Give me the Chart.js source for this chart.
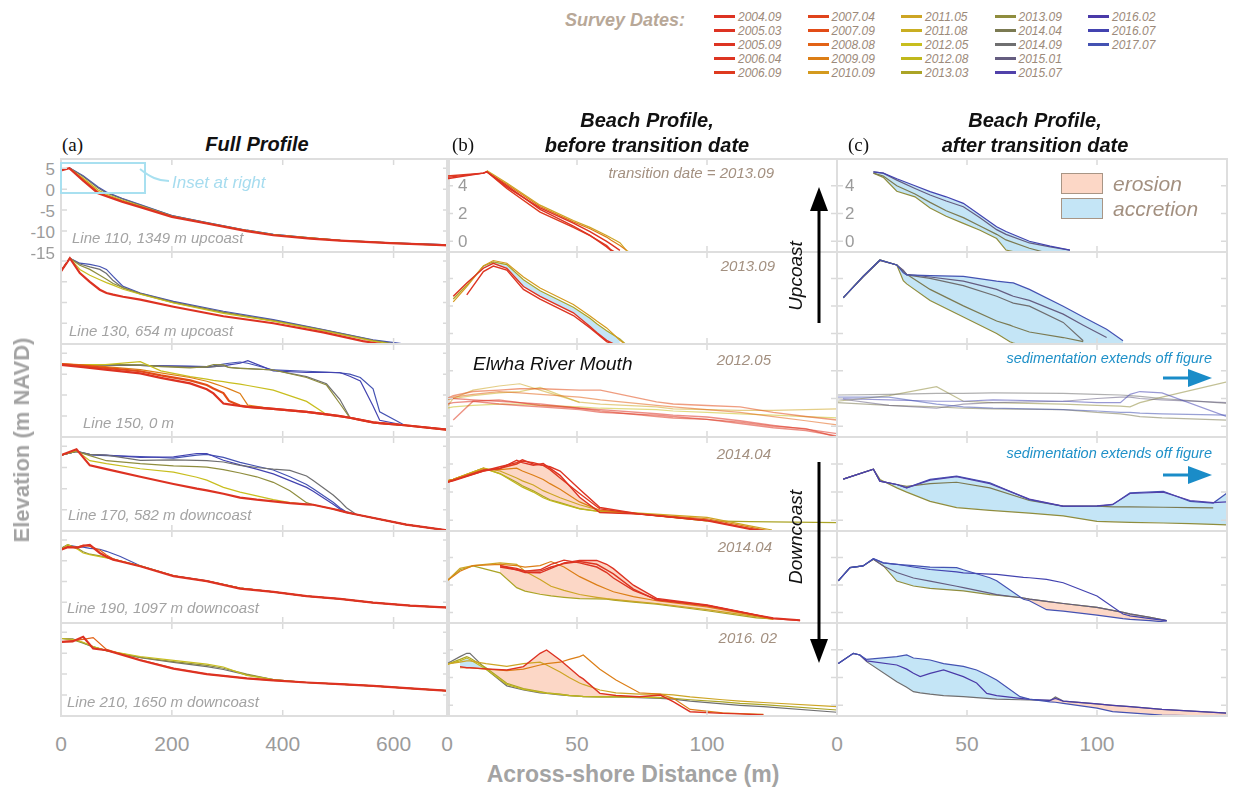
<!DOCTYPE html>
<html>
<head>
<meta charset="utf-8">
<script src="https://cdn.jsdelivr.net/npm/chart.js@4.4.1/dist/chart.umd.min.js"></script>
<style>
  body { margin: 0; background: #fff; width: 1233px; height: 788px; position: relative; overflow: hidden;
         font-family: "Liberation Sans", Arial, Helvetica, sans-serif; }
  .t { position: absolute; white-space: nowrap; line-height: 1; }
  canvas { position: absolute; }
  svg { position: absolute; left: 0; top: 0; pointer-events: none; }
</style>
</head>
<body>
<script>
(function () {
  "use strict";

  // Survey dates and their legend colours
  const surveyDates = ['2004.09', '2005.03', '2005.09', '2006.04', '2006.09', '2007.04', '2007.09', '2008.08',
    '2009.09', '2010.09', '2011.05', '2011.08', '2012.05', '2012.08', '2013.03', '2013.09', '2014.04',
    '2014.09', '2015.01', '2015.07', '2016.02', '2016.07', '2017.07'];
  const surveyColors = ['#dd3222', '#dd3322', '#dd3422', '#dd3522', '#de3a1f', '#e0431b', '#e24c17', '#e26216',
    '#dc7e16', '#d49a1e', '#cda524', '#c9ae22', '#c8be1e', '#c0b81c', '#aba426', '#8f8d3e', '#7b7a52',
    '#6f6f70', '#655d80', '#5141aa', '#4a3aa8', '#4343b0', '#4452b2'];

  // ---- (a) Full profile ----
  const distA110 = [0, 15, 40, 67, 82, 110, 143, 200, 263, 335, 383, 450, 504, 594, 700];
  const a110_2004_09 = [4.5, 5.0, 2.0, -1.0, -1.7, -3.0, -4.3, -6.6, -8.2, -10.0, -11.0, -11.8, -12.3, -12.9, -13.4];
  const a110_2008_08 = [4.6, 5.0, 2.3, -0.6, -1.5, -2.8, -4.2, -6.5, -8.1, -9.9, -10.9, -11.7, -12.3, -12.9, -13.4];
  const a110_2012_05 = [null, 5.0, 2.6, -0.2, -1.2, -2.6, -4.0, -6.5, -8.2, -9.9, -10.9, -11.6, -12.2, -12.8, -13.5];
  const a110_2014_09 = [null, 5.1, 3.0, 0.3, -0.9, -2.3, -3.8, -6.3, -8.0, -9.8, -10.8, -11.6, -12.2, -12.8, -13.3];
  const a110_2017_07 = [null, 5.1, 3.2, 0.5, -0.7, -2.2, -3.7, -6.3, -8.0, -9.8, -10.8, -11.6, -12.2, -12.8, -13.3];

  const distA130 = [0, 16, 34, 52, 70, 82, 94, 112, 143, 203, 293, 383, 473, 545, 563, 608, 650];
  const a130_2004_09 = [2.5, 5.7, 2.1, 0.0, -1.9, -2.7, -3.1, -3.6, -4.3, -6.0, -8.3, -10.0, -12.2, -14.3, -14.7, -15.6, null];
  const a130_2012_05 = [2.6, 5.7, 3.0, 1.6, 0.5, -0.2, -0.8, -1.8, -3.0, -5.1, -7.6, -9.5, -11.8, -13.8, -14.3, -15.3, null];
  const a130_2013_09 = [2.6, 5.7, 4.0, 3.0, 1.6, 0.6, -0.4, -1.4, -2.9, -5.0, -7.4, -9.4, -11.7, -13.7, -14.2, -15.2, null];
  const a130_2014_09 = [2.6, 5.7, 4.3, 3.6, 3.0, 2.0, 0.3, -1.5, -2.8, -4.9, -7.3, -9.3, -11.6, -13.6, -14.1, -15.1, null];
  const a130_2017_07 = [2.6, 5.7, 4.5, 4.2, 3.7, 3.0, 1.3, -1.1, -2.7, -4.7, -7.1, -9.1, -11.5, -13.5, -14.0, -14.8, -15.6];

  const distA150 = [0, 40, 80, 143, 180, 233, 263, 275, 293, 303, 323, 337, 383, 443, 479, 503, 521, 540, 563, 575, 620, 700];
  const a150_2004_09 = [2.2, 1.7, 1.1, 0.2, -0.9, -2.2, -3.6, -4.6, -7.0, -7.2, -7.6, -7.8, -8.3, -9.0, -9.6, -10.0, -10.4, -10.9, -11.5, -11.7, -12.2, -13.3];
  const a150_2007_09 = [2.4, 2.0, 1.5, 0.7, -0.3, -1.5, -2.6, -3.4, -4.5, -6.4, -7.5, -7.8, -8.3, -9.0, -9.6, -10.0, -10.4, -10.9, -11.5, -11.7, -12.2, -13.3];
  const a150_2009_09 = [2.5, 2.2, 1.8, 1.1, 0.3, -0.8, -1.7, -2.2, -3.0, -3.5, -4.6, -7.4, -8.3, -9.0, -9.6, -10.0, -10.4, -10.9, -11.5, -11.7, -12.2, -13.3];
  const a150_2012_05 = [2.3, 2.3, 2.3, 3.0, 0.8, -0.6, -1.2, -1.5, -1.8, -2.0, -2.4, -2.7, -3.8, -6.5, -9.6, -10.0, -10.4, -10.9, -11.5, -11.7, -12.2, -13.3];
  const a150_2013_09 = [2.3, 2.3, 2.3, 2.2, 1.8, 1.5, 1.8, 2.3, 2.2, 1.6, 1.4, 1.3, 1.0, -0.8, -2.6, -7.0, -10.4, -10.9, -11.5, -11.7, -12.2, -13.3];
  const a150_2014_09 = [2.3, 2.3, 2.2, 2.1, 1.9, 1.7, 1.6, 1.8, 2.0, 1.6, 1.4, 1.3, 1.0, -0.6, -2.3, -6.0, -10.3, -10.9, -11.5, -11.7, -12.2, -13.3];
  const a150_2016_07 = [2.3, 2.2, 2.2, 2.1, 2.0, 1.8, 1.7, 1.8, 2.0, 2.2, 2.6, 3.2, 0.8, 0.4, 0.4, 0.4, -0.5, -1.6, -7.6, -11.0, -12.2, -13.3];
  const a150_2017_07 = [2.3, 2.2, 2.2, 2.1, 2.0, 1.9, 1.8, 2.0, 2.4, 2.6, 2.9, 2.6, 1.0, 0.7, 0.5, 0.3, 0.0, -0.8, -3.5, -9.0, -12.2, -13.3];

  const distA170 = [0, 28, 52, 82, 143, 203, 245, 263, 293, 323, 353, 383, 413, 443, 455, 491, 503, 515, 533, 623, 700];
  const a170_2004_09 = [2.9, 4.3, 0.5, -0.4, -2.2, -3.9, -5.0, -5.4, -6.2, -7.1, -7.6, -8.0, -8.4, -8.7, -8.8, -9.8, -10.2, -10.6, -11.1, -13.5, -14.9];
  const a170_2012_05 = [2.9, 4.0, 1.6, 0.9, -0.3, -1.1, -2.3, -3.0, -4.7, -5.8, -6.7, -7.6, -8.3, -8.7, -8.8, -9.8, -10.2, -10.6, -11.1, -13.5, -14.9];
  const a170_2013_09 = [2.9, 3.8, 2.8, 1.6, 0.9, 0.4, 0.2, 0.1, -0.5, -1.3, -2.2, -3.5, -5.5, -8.3, -8.8, -9.8, -10.2, -10.6, -11.1, -13.5, -14.9];
  const a170_2014_09 = [2.9, 3.8, 3.1, 2.9, 1.7, 1.8, 1.7, 1.6, 1.3, 0.5, 0.0, -0.4, -0.7, -2.0, -3.1, -6.5, -7.9, -9.5, -11.1, -13.5, -14.9];
  const a170_2016_07 = [2.9, 3.8, 3.1, 2.9, 2.4, 2.5, 3.3, 3.3, 1.7, 0.6, -0.4, -1.5, -3.1, -4.7, -5.6, -8.7, -9.8, -10.6, -11.1, -13.5, -14.9];
  const a170_2017_07 = [2.9, 3.8, 3.0, 2.8, 2.6, 2.2, 2.9, 3.1, 2.4, 1.2, 0.3, -0.6, -2.2, -4.0, -5.0, -8.2, -9.5, -10.5, -11.1, -13.5, -14.9];

  const distA190 = [0, 12, 30, 40, 52, 70, 82, 94, 106, 143, 203, 263, 323, 383, 443, 503, 563, 630, 700];
  const a190_2004_09 = [2.7, 3.3, 3.2, 3.6, 3.85, 1.9, 1.0, 0.3, -0.1, -1.3, -3.7, -4.9, -6.7, -7.5, -8.5, -9.2, -10.1, -10.8, -11.3];
  const a190_2008_08 = [2.7, 3.3, 3.3, 3.8, 3.5, 2.6, 1.4, 0.5, 0.0, -1.3, -3.6, -4.9, -6.6, -7.5, -8.5, -9.2, -10.1, -10.8, -11.3];
  const a190_2012_05 = [2.7, 3.9, 2.8, 1.9, 1.5, 1.0, 0.7, 0.4, 0.0, -1.2, -3.6, -4.9, -6.6, -7.5, -8.5, -9.2, -10.1, -10.8, -11.3];
  const a190_2013_09 = [3.0, 3.9, 3.0, 2.2, 1.6, 1.2, 0.8, 0.4, 0.0, -1.2, -3.6, -4.8, -6.6, -7.5, -8.5, -9.2, -10.1, -10.8, -11.3];
  const a190_2017_07 = [3.0, 3.8, 3.4, 3.3, 3.0, 2.8, 2.3, 1.7, 1.1, -1.2, -3.6, -4.8, -6.6, -7.5, -8.5, -9.2, -10.1, -10.8, -11.3];

  const distA210 = [0, 21, 40, 58, 82, 143, 203, 263, 293, 335, 383, 443, 503, 563, 630, 700];
  const a210_2004_09 = [2.7, 2.8, 3.9, 1.1, 0.7, -1.7, -3.7, -5.0, -5.4, -6.0, -6.5, -7.0, -7.4, -7.8, -8.4, -9.0];
  const a210_2008_08 = [2.7, 3.0, 3.3, 3.7, 0.9, -1.6, -3.6, -5.0, -5.4, -6.0, -6.5, -7.0, -7.4, -7.8, -8.4, -9.0];
  const a210_2012_05 = [3.5, 3.3, 2.6, 1.6, 0.6, -0.8, -1.7, -2.6, -3.3, -5.3, -6.3, -7.0, -7.4, -7.8, -8.4, -9.0];
  const a210_2013_09 = [3.5, 3.2, 2.4, 1.5, 0.6, -1.0, -2.0, -2.9, -3.6, -5.0, -6.3, -7.0, -7.4, -7.8, -8.4, -9.0];
  const a210_2014_09 = [3.5, 3.4, 2.5, 1.5, 0.6, -1.1, -2.2, -3.2, -3.9, -5.2, -6.3, -7.0, -7.4, -7.8, -8.4, -9.0];

  // ---- (b) Beach profile before transition date ----
  const distB110 = [0, 14, 15.3, 23, 35.8, 48.6, 55, 61.4, 63, 66.5, 69, 72];
  const b110_2004_09 = [4.5, 4.9, 5.0, 3.9, 2.4, 1.3, 0.7, 0.0, -0.2, -0.65, null, null];
  const b110_2005_09 = [4.6, 4.9, 5.0, 4.0, 2.3, 1.1, 0.42, -0.4, -0.65, -1.0, null, null];
  const b110_2006_09 = [4.7, 4.9, 5.0, 3.8, 2.1, 1.0, 0.4, -0.3, -0.6, -1.0, null, null];
  const b110_2009_09 = [null, null, 5.0, 4.1, 2.5, 1.4, 0.9, 0.3, 0.1, -0.3, -0.65, null];
  const b110_2011_05 = [null, null, 5.1, 4.2, 2.6, 1.5, 1.0, 0.42, 0.25, -0.1, -0.65, -1.0];

  const distB130 = [0, 2.4, 7.6, 14, 17.8, 23, 29.4, 35.8, 42.2, 48.6, 55, 57.6, 61.4, 66.5, 70];
  const b130_2004_09 = [null, 2.7, 3.66, 4.74, 5.1, 4.74, 3.41, 2.7, 2.1, 1.5, 0.5, 0.06, -0.5, -1.0, null];
  const b130_2006_04 = [null, null, 2.8, 4.5, 4.9, 4.6, 3.2, 2.5, 1.9, 1.3, 0.4, 0.0, -0.6, -1.0, null];
  const b130_2010_09 = [null, 2.3, 3.4, 4.9, 5.3, 5.1, 4.1, 3.3, 2.7, 2.1, 1.26, 0.9, 0.4, -0.5, -1.0];
  const b130_2013_03 = [null, 2.5, 3.5, 4.9, 5.2, 5.0, 3.9, 3.1, 2.5, 1.9, 1.1, 0.7, 0.2, -0.4, -1.0];

  const distB150 = [0, 2.4, 10, 20, 28, 35.8, 51, 59, 80.6, 87, 100, 112.7, 125.5, 138, 150];
  const b150_2004_09 = [2.0, 2.0, 1.9, 1.8, 1.7, 1.6, 1.3, 1.2, 0.9, 0.8, 0.67, 0.4, 0.07, -0.2, -0.53];
  const b150_2005_09 = [1.6, 1.7, 1.8, 1.6, 1.5, 1.4, 1.2, 1.0, 0.8, 0.7, 0.5, 0.2, -0.1, -0.3, -0.7];
  const b150_2006_09 = [null, 0.45, 1.8, 1.9, 1.7, 1.5, 1.3, 1.1, 0.7, 0.6, 0.5, 0.3, 0.0, -0.17, -0.77];
  const b150_2007_09 = [2.0, 2.2, 2.5, 2.6, 2.7, 2.7, 2.6, 2.6, 1.76, 1.6, 1.5, 1.4, 1.0, 0.7, 0.45];
  const b150_2008_08 = [1.9, 2.1, 2.3, 2.5, 2.4, 2.3, 2.1, 1.9, 1.5, 1.4, 1.2, 1.0, 0.7, 0.4, 0.1];
  const b150_2011_05 = [1.4, 2.0, 2.6, 2.9, 3.06, 2.6, 1.74, 1.6, 1.4, 1.26, 1.2, 1.15, 1.14, 1.2, 1.26];
  const b150_2011_08 = [1.9, 2.0, 2.2, 2.4, 2.5, 2.8, 1.7, null, null, null, null, null, null, null, null];
  const b150_2012_05 = [1.3, 1.4, 1.5, 1.6, 1.6, 1.5, 1.4, 1.3, 1.2, 1.1, 1.0, 0.9, 0.8, 0.7, 0.6];

  const distB170 = [0, 2.4, 14, 20.4, 26.8, 29, 33.2, 37, 39.6, 43.5, 51, 58.8, 74, 100, 116.5, 125, 150];
  const b170_2004_09 = [2.7, 2.83, 3.55, 3.67, 4.27, 4.1, 3.91, 4.03, 3.7, 3.19, 1.63, 0.55, 0.43, -0.05, -0.65, -0.9, null];
  const b170_2005_03 = [2.7, 2.8, 3.5, 3.8, 4.1, 4.3, 4.0, 3.9, 3.8, 3.5, 2.2, 0.9, 0.45, 0.0, -0.6, -0.85, null];
  const b170_2006_09 = [2.7, 2.85, 3.5, 3.7, 4.0, 4.2, 4.1, 3.9, 3.6, 3.0, 1.9, 0.8, 0.43, 0.0, -0.6, -0.85, null];
  const b170_2009_09 = [2.8, 2.9, 3.6, 3.6, 3.7, 3.5, 3.2, 2.9, 2.6, 2.2, 1.3, 0.7, 0.45, 0.1, -0.5, -0.8, null];
  const b170_2011_05 = [2.8, 2.9, 3.7, 3.5, 3.0, 2.8, 2.5, 2.1, 1.9, 1.6, 1.1, 0.7, 0.5, 0.2, -0.4, -0.7, null];
  const b170_2012_08 = [2.8, 2.9, 3.7, 3.3, 2.6, 2.35, 2.0, 1.6, 1.4, 1.2, 0.8, 0.6, 0.45, -0.05, null, null, null];
  const b170_2013_03 = [2.8, 2.9, 3.7, 3.31, 2.7, 2.45, 2.1, 1.7, 1.45, 1.25, 0.82, 0.62, 0.45, -0.05, -0.1, -0.12, -0.17];

  const distB190 = [0, 5, 10, 20.4, 26.8, 30, 35.8, 40, 45, 51, 57.6, 61.4, 64, 71.7, 80.6, 100, 119, 125.5, 135.8];
  const b190_2004_09 = [null, null, null, 3.4, 3.1, 2.9, 2.88, 3.2, 3.6, 3.78, 3.78, 3.5, 3.18, 1.98, 1.02, 0.54, -0.18, -0.4, -0.54];
  const b190_2005_09 = [null, null, null, 3.3, 3.1, 3.0, 3.1, 3.5, 3.8, 3.6, 3.3, 2.9, 2.5, 1.6, 0.95, 0.5, -0.2, -0.45, -0.6];
  const b190_2006_04 = [null, null, null, 3.4, 3.2, 3.0, 3.0, 3.3, 3.55, 3.7, 3.5, 3.1, 2.8, 1.7, 0.9, 0.5, -0.2, -0.45, -0.6];
  const b190_2009_09 = [2.3, 3.0, 3.4, 3.5, 3.4, 3.3, 3.4, 3.7, 3.3, 2.6, 2.0, 1.7, 1.5, 1.15, 0.85, 0.4, -0.25, -0.5, null];
  const b190_2011_05 = [2.3, 3.2, 3.4, 3.6, 3.5, 3.0, 2.4, 1.9, 1.6, 1.3, 1.1, 1.0, 0.95, 0.8, 0.65, 0.2, -0.3, -0.5, null];
  const b190_2013_03 = [2.3, 3.1, 3.38, 2.88, 1.8, 1.55, 1.32, 1.2, 1.1, 1.0, 0.98, 0.96, 0.9, 0.75, 0.6, 0.12, -0.4, -0.48, null];

  const distB210 = [0, 1, 5, 7.6, 8.8, 15, 23, 29.4, 35.8, 38.3, 43.5, 47, 51, 52.4, 58.8, 65, 74, 82, 87, 93.5, 106, 112.7, 121.7, 150];
  const b210_2004_09 = [null, null, 2.78, 2.7, 2.7, 2.62, 2.54, 2.78, 3.74, 3.98, 3.26, 2.7, 2.06, 1.9, 0.86, 0.7, 0.62, 0.74, 0.26, -0.46, -0.58, -0.62, -0.7, null];
  const b210_2009_09 = [null, null, 2.7, 2.7, 2.7, 2.6, 2.5, 2.6, 2.9, 3.0, 3.1, 3.3, 3.5, 3.62, 2.6, 1.82, 0.9, 0.8, 0.5, -0.3, -0.55, -0.6, -0.65, null];
  const b210_2011_05 = [2.9, 3.0, 3.1, 3.2, 3.2, 3.0, 2.8, 3.0, 3.1, 2.9, 2.4, 2.0, 1.6, 1.5, 1.1, 0.9, 0.8, 0.8, 0.75, 0.6, 0.4, 0.3, 0.2, -0.1];
  const b210_2012_08 = [2.9, 3.0, 3.2, 3.4, 3.3, 2.6, 1.5, 1.15, 0.95, 0.88, 0.78, 0.7, 0.65, 0.62, 0.6, 0.6, 0.58, 0.55, null, null, null, null, null, null];
  const b210_2013_03 = [2.9, 3.02, 3.3, 3.5, 3.4, 2.7, 1.58, 1.2, 0.98, 0.9, 0.8, 0.72, 0.66, 0.64, 0.62, 0.62, 0.6, 0.55, 0.5, 0.4, 0.25, 0.14, 0.05, -0.34];
  const b210_2014_09 = [3.0, 3.1, 3.5, 3.74, 3.74, 2.6, 1.4, 1.1, 0.9, 0.85, 0.75, 0.7, 0.65, 0.62, 0.6, 0.6, 0.55, 0.5, 0.45, 0.3, 0.1, 0.0, -0.1, -0.5];

  // ---- (c) Beach profile after transition date ----
  const distC110 = [14, 17.8, 23, 30, 35.8, 42, 48.6, 55, 61.4, 65, 74, 82, 89.6];
  const c110_2013_09 = [4.9, 4.6, 3.6, 3.2, 2.4, 1.8, 1.29, 0.8, 0.2, -0.63, -1.0, -1.2, -1.4];
  const c110_2014_04 = [4.9, 4.7, 4.0, 3.4, 2.8, 2.2, 1.7, 1.1, 0.5, 0.1, -0.5, -0.9, null];
  const c110_2015_01 = [5.0, 4.9, 4.4, 3.8, 3.33, 2.9, 2.49, 1.7, 0.84, 0.5, -0.12, -0.4, -0.63];
  const c110_2016_07 = [5.0, 4.9, 4.5, 4.0, 3.57, 3.2, 2.73, 1.9, 1.05, 0.7, 0.0, -0.35, -0.63];

  const distC130 = [2.4, 10, 16.5, 23, 25.5, 26.8, 35.8, 48.6, 61.4, 66.5, 67.8, 74, 87, 94.7, 103.7, 110];
  const c130_2013_09 = [2.59, 4.15, 5.34, 4.98, 3.83, 3.6, 2.39, 1.19, -0.01, -0.61, -0.7, -1.0, -1.2, -1.3, -1.5, -1.6];
  const c130_2014_04 = [2.59, 4.15, 5.34, 4.98, 4.5, 4.3, 3.2, 2.0, 0.9, 0.6, 0.5, 0.1, -0.3, -0.6, null, null];
  const c130_2014_09 = [2.6, 4.1, 5.3, 4.98, 4.5, 4.26, 4.0, 3.47, 2.7, 2.3, 2.2, 1.98, 0.8, -0.53, null, null];
  const c130_2015_01 = [2.6, 4.1, 5.3, 4.98, 4.6, 4.3, 4.1, 3.8, 3.2, 2.8, 2.7, 2.4, 1.4, 0.6, -0.3, null];
  const c130_2017_07 = [2.59, 4.15, 5.34, 4.98, 4.4, 4.26, 4.2, 4.15, 3.8, 3.7, 3.67, 3.2, 1.98, 1.2, 0.31, -0.53];

  const distC150 = [0, 20, 38.3, 48.6, 60, 87, 100, 109, 112.7, 116.5, 125, 150];
  const c150_2013_09 = [1.8, 2.2, 2.85, 1.8, 1.7, 1.6, 1.5, 1.45, 1.4, 1.7, 2.1, 3.2];
  const c150_2014_04 = [1.7, 1.5, 1.4, 1.3, 1.25, 1.2, 1.0, 0.9, 0.8, 0.7, 0.6, 0.45];
  const c150_2014_09 = [2.25, 2.3, 2.37, 2.37, 2.4, 2.37, 2.3, 2.25, 2.2, 2.15, 2.0, 1.65];
  const c150_2015_01 = [2.0, 1.5, 1.3, 1.6, 1.7, 1.8, 2.0, 2.1, 2.1, 2.0, 1.9, 1.7];
  const c150_2016_07 = [2.0, 1.9, 1.8, 1.8, 1.9, 1.8, 1.7, 1.7, 2.3, 2.5, 2.4, 0.7];
  const c150_2017_07 = [2.1, 2.1, 1.6, 1.4, 1.3, 1.2, 1.1, 1.0, 1.0, 0.95, 0.9, 0.8];

  const distC170 = [2.4, 14, 16.5, 23, 26.8, 35.8, 46, 58.8, 74, 87, 100, 106, 112.7, 125.5, 135.8, 144.7, 150];
  const c170_2013_09 = [2.92, 3.63, 2.9, 2.3, 2.0, 1.34, 0.9, 0.7, 0.5, 0.3, -0.09, -0.12, -0.15, -0.2, -0.25, -0.3, -0.33];
  const c170_2014_04 = [2.92, 3.63, 2.78, 2.54, 2.4, 2.6, 2.7, 2.3, 1.4, 1.0, 1.0, 0.95, 0.95, 0.92, 0.9, 0.88, null];
  const c170_2015_07 = [2.92, 3.63, 2.78, 2.54, 2.3, 2.85, 3.1, 2.6, 1.5, 1.0, 1.02, 1.12, 1.9, 2.0, 1.4, 1.25, 1.3];
  const c170_2017_07 = [2.92, 3.63, 2.78, 2.54, 2.3, 2.9, 3.14, 2.66, 1.46, 0.98, 1.0, 1.1, 1.94, 2.06, 1.34, 1.22, 1.94];

  const distC190 = [0.5, 5, 10, 14, 17.8, 23, 29.4, 35.8, 46, 48.6, 58.8, 61.4, 71.7, 74, 80.6, 87, 100, 110, 112.7, 120.4, 126.8];
  const c190_2013_09 = [2.3, 3.26, 3.38, 3.86, 3.4, 2.28, 1.92, 1.75, 1.6, 1.56, 1.3, 1.25, 1.05, 0.96, 0.8, 0.65, 0.36, 0.0, -0.12, -0.36, -0.6];
  const c190_2015_01 = [2.3, 3.26, 3.38, 3.86, 3.38, 2.9, 2.5, 2.28, 1.9, 1.8, 1.4, 1.3, 1.05, 0.96, 0.8, 0.65, 0.36, 0.0, -0.1, -0.35, -0.6];
  const c190_2016_07 = [2.3, 3.26, 3.38, 3.9, 3.6, 3.5, 3.3, 3.12, 2.95, 2.88, 2.78, 2.76, 2.55, 2.52, 2.4, 2.16, 1.2, -0.12, -0.25, -0.45, -0.6];
  const c190_2017_07 = [2.3, 3.26, 3.38, 3.9, 3.6, 3.5, 3.4, 3.3, 3.26, 3.1, 2.52, 2.3, 0.96, 0.85, 0.2, 0.1, -0.2, -0.45, -0.5, -0.6, -0.7];

  const distC210 = [0.5, 6.3, 8.8, 11.4, 23, 26.8, 29.4, 32, 35.8, 41, 48.6, 53.7, 57.6, 61.4, 70.4, 74, 82, 84, 87, 100, 106, 112.7, 125, 150];
  const c210_2014_09 = [3.0, 3.74, 3.62, 3.14, 1.7, 1.3, 0.98, 0.9, 0.8, 0.7, 0.62, 0.55, 0.5, 0.45, 0.4, 0.38, 0.35, 0.6, 0.3, 0.1, 0.0, -0.1, -0.3, -0.56];
  const c210_2016_02 = [3.0, 3.74, 3.62, 3.2, 2.9, 2.6, 2.3, 2.06, 2.3, 2.54, 2.06, 1.6, 0.86, 0.7, 0.5, 0.42, 0.35, 0.5, 0.3, 0.1, 0.0, -0.1, -0.3, -0.56];
  const c210_2017_07 = [3.0, 3.74, 3.62, 3.3, 3.5, 3.62, 3.4, 3.35, 3.26, 3.0, 2.8, 2.54, 2.2, 1.82, 0.62, 0.45, 0.25, 0.22, 0.14, -0.2, -0.46, -0.55, -0.7, -0.8];

  // Axis ticks
  const ticksFullX = [0, 200, 400, 600];
  const ticksFullY = [5, 0, -5, -10, -15];
  const ticksBeachX = [0, 50, 100];
  const ticksBeachY = [0, 2, 4];

  const EROSION = 'rgba(251, 208, 188, 0.85)';
  const ACCRETION = 'rgba(190, 226, 245, 0.9)';

  // Panel layout (pixels on the page)
  const colBox = [{ left: 61, right: 449 }, { left: 447, right: 837 }, { left: 837, right: 1227 }];
  const rowTop = [159, 252, 344, 437, 531, 623, 716];
  const colRange = [
    { xmin: 0, xmax: 700, ymin: -15, ymax: 7.2, xt: ticksFullX, yt: ticksFullY },
    { xmin: 0, xmax: 150, ymin: -0.77, ymax: 5.92, xt: ticksBeachX, yt: ticksBeachY },
    { xmin: 0, xmax: 150, ymin: -0.77, ymax: 5.92, xt: ticksBeachX, yt: ticksBeachY }
  ];

  // lines listed bottom -> top in draw order; fill = [later, earlier]
  const panels = [
    { col: 0, row: 0, dist: distA110, lines: [['2017.07', a110_2017_07], ['2014.09', a110_2014_09], ['2012.05', a110_2012_05], ['2008.08', a110_2008_08], ['2004.09', a110_2004_09]] },
    { col: 0, row: 1, dist: distA130, lines: [['2017.07', a130_2017_07], ['2014.09', a130_2014_09], ['2013.09', a130_2013_09], ['2012.05', a130_2012_05], ['2004.09', a130_2004_09]] },
    { col: 0, row: 2, dist: distA150, lines: [['2017.07', a150_2017_07], ['2016.07', a150_2016_07], ['2014.09', a150_2014_09], ['2013.09', a150_2013_09], ['2012.05', a150_2012_05], ['2009.09', a150_2009_09], ['2007.09', a150_2007_09], ['2004.09', a150_2004_09]] },
    { col: 0, row: 3, dist: distA170, lines: [['2017.07', a170_2017_07], ['2016.07', a170_2016_07], ['2014.09', a170_2014_09], ['2013.09', a170_2013_09], ['2012.05', a170_2012_05], ['2004.09', a170_2004_09]] },
    { col: 0, row: 4, dist: distA190, lines: [['2017.07', a190_2017_07], ['2013.09', a190_2013_09], ['2012.05', a190_2012_05], ['2008.08', a190_2008_08], ['2004.09', a190_2004_09]] },
    { col: 0, row: 5, dist: distA210, lines: [['2014.09', a210_2014_09], ['2013.09', a210_2013_09], ['2012.05', a210_2012_05], ['2008.08', a210_2008_08], ['2004.09', a210_2004_09]] },

    { col: 1, row: 0, dist: distB110, lines: [['2011.05', b110_2011_05], ['2009.09', b110_2009_09], ['2006.09', b110_2006_09], ['2005.09', b110_2005_09], ['2004.09', b110_2004_09]] },
    { col: 1, row: 1, dist: distB130, lines: [['2013.03', b130_2013_03], ['2010.09', b130_2010_09], ['2006.04', b130_2006_04], ['2004.09', b130_2004_09]], fill: ['2013.03', '2004.09'] },
    { col: 1, row: 2, dist: distB150, faded: true, lines: [['2012.05', b150_2012_05], ['2011.08', b150_2011_08], ['2011.05', b150_2011_05], ['2008.08', b150_2008_08], ['2007.09', b150_2007_09], ['2006.09', b150_2006_09], ['2005.09', b150_2005_09], ['2004.09', b150_2004_09]] },
    { col: 1, row: 3, dist: distB170, lines: [['2013.03', b170_2013_03], ['2012.08', b170_2012_08], ['2011.05', b170_2011_05], ['2009.09', b170_2009_09], ['2006.09', b170_2006_09], ['2005.03', b170_2005_03], ['2004.09', b170_2004_09]], fill: ['2012.08', '2004.09'] },
    { col: 1, row: 4, dist: distB190, lines: [['2013.03', b190_2013_03], ['2011.05', b190_2011_05], ['2009.09', b190_2009_09], ['2006.04', b190_2006_04], ['2005.09', b190_2005_09], ['2004.09', b190_2004_09]], fill: ['2013.03', '2004.09'] },
    { col: 1, row: 5, dist: distB210, lines: [['2014.09', b210_2014_09], ['2013.03', b210_2013_03], ['2012.08', b210_2012_08], ['2011.05', b210_2011_05], ['2009.09', b210_2009_09], ['2004.09', b210_2004_09]], fill: ['2012.08', '2004.09'] },

    { col: 2, row: 0, dist: distC110, lines: [['2013.09', c110_2013_09], ['2014.04', c110_2014_04], ['2015.01', c110_2015_01], ['2016.07', c110_2016_07]], fill: ['2016.07', '2013.09'] },
    { col: 2, row: 1, dist: distC130, lines: [['2013.09', c130_2013_09], ['2014.04', c130_2014_04], ['2014.09', c130_2014_09], ['2015.01', c130_2015_01], ['2017.07', c130_2017_07]], fill: ['2017.07', '2013.09'] },
    { col: 2, row: 2, dist: distC150, faded: true, lines: [['2013.09', c150_2013_09], ['2014.04', c150_2014_04], ['2014.09', c150_2014_09], ['2015.01', c150_2015_01], ['2016.07', c150_2016_07], ['2017.07', c150_2017_07]] },
    { col: 2, row: 3, dist: distC170, lines: [['2013.09', c170_2013_09], ['2014.04', c170_2014_04], ['2017.07', c170_2017_07], ['2015.07', c170_2015_07]], fill: ['2017.07', '2013.09'] },
    { col: 2, row: 4, dist: distC190, lines: [['2013.09', c190_2013_09], ['2015.01', c190_2015_01], ['2016.07', c190_2016_07], ['2017.07', c190_2017_07]], fill: ['2017.07', '2013.09'] },
    { col: 2, row: 5, dist: distC210, lines: [['2014.09', c210_2014_09], ['2016.02', c210_2016_02], ['2017.07', c210_2017_07]], fill: ['2017.07', '2014.09'] }
  ];

  // Convert HEX to RGBA
  function hexToRGBA(hex, a) {
    const h = hex.replace('#', '');
    return 'rgba(' + parseInt(h.substr(0, 2), 16) + ',' + parseInt(h.substr(2, 2), 16) + ',' + parseInt(h.substr(4, 2), 16) + ',' + a + ')';
  }

  // box with inward tick marks on all four sides
  const panelFrame = {
    id: 'panelFrame',
    afterDatasetsDraw(chart, args, opts) {
      const { ctx, chartArea: a, scales } = chart;
      ctx.save();
      ctx.strokeStyle = '#dadada';
      ctx.lineWidth = 1.5;
      ctx.beginPath();
      opts.xt.forEach(v => {
        const px = scales.x.getPixelForValue(v);
        if (px < a.left + 3) return;
        ctx.moveTo(px, a.top); ctx.lineTo(px, a.top + 6);
        ctx.moveTo(px, a.bottom); ctx.lineTo(px, a.bottom - 6);
      });
      opts.yt.forEach(v => {
        const py = scales.y.getPixelForValue(v);
        if (py < a.top + 3 || py > a.bottom - 3) return;
        ctx.moveTo(a.left, py); ctx.lineTo(a.left + 6, py);
        ctx.moveTo(a.right, py); ctx.lineTo(a.right - 6, py);
      });
      ctx.stroke();
      ctx.lineWidth = 2;
      ctx.strokeStyle = '#dedede';
      ctx.strokeRect(a.left, a.top, a.right - a.left, a.bottom - a.top);
      ctx.restore();
    }
  };

  const PAD = 3;
  panels.forEach(function (p) {
    const box = colBox[p.col];
    const rng = colRange[p.col];
    const top = rowTop[p.row], bottom = rowTop[p.row + 1];
    const cv = document.createElement('canvas');
    cv.width = box.right - box.left + 2 * PAD;
    cv.height = bottom - top + 2 * PAD;
    cv.style.left = (box.left - PAD) + 'px';
    cv.style.top = (top - PAD) + 'px';
    document.body.appendChild(cv);

    const keys = p.lines.map(l => l[0]);
    const datasets = p.lines.map(function (l, i) {
      const date = l[0];
      const base = surveyColors[surveyDates.indexOf(date)];
      const early = date <= '2007.09';
      const ds = {
        label: date,
        data: p.dist.map((d, k) => ({ x: d, y: l[1][k] })),
        borderColor: p.faded ? hexToRGBA(base, 0.55) : base,
        borderWidth: p.col === 0 && early ? 2.2 : (early ? 1.4 : 1.2),
        pointRadius: 0,
        tension: 0,
        fill: false,
        order: p.lines.length - i
      };
      if (p.fill && p.fill[0] === date) {
        ds.fill = { target: keys.indexOf(p.fill[1]), above: ACCRETION, below: EROSION };
      }
      return ds;
    });

    new Chart(cv.getContext('2d'), {
      type: 'line',
      data: { datasets: datasets },
      options: {
        responsive: false,
        animation: false,
        layout: { padding: PAD },
        scales: {
          x: { type: 'linear', display: false, min: rng.xmin, max: rng.xmax },
          y: { type: 'linear', display: false, min: rng.ymin, max: rng.ymax }
        },
        plugins: {
          legend: { display: false },
          tooltip: { enabled: false },
          filler: { drawTime: 'beforeDatasetsDraw' },
          panelFrame: { xt: rng.xt, yt: rng.yt }
        }
      },
      plugins: [panelFrame]
    });
  });

  // ---- text ----
  function txt(s, x, y, css, align) {
    const d = document.createElement('div');
    d.className = 't';
    d.textContent = s;
    d.style.cssText += css;
    const tx = align === 'c' ? '-50%' : (align === 'r' ? '-100%' : '0');
    d.style.left = x + 'px';
    d.style.top = y + 'px';
    d.style.transform = 'translate(' + tx + ',-50%)';
    document.body.appendChild(d);
    return d;
  }

  // legend
  txt('Survey Dates:', 565, 20, 'font-size:18px;font-weight:bold;font-style:italic;color:#b8a898;', 'l');
  surveyDates.forEach(function (d, i) {
    const c = Math.floor(i / 5), r = i % 5;
    const x = 714 + c * 93.5, y = 16 + r * 14;
    const sw = document.createElement('div');
    sw.style.cssText = 'position:absolute;left:' + x + 'px;top:' + (y - 1.5) + 'px;width:21px;height:3px;background:' + surveyColors[i] + ';';
    document.body.appendChild(sw);
    txt(d, x + 24, y + 1, 'font-size:12px;font-style:italic;color:#9c8a7a;', 'l');
  });

  // titles
  const serif = 'font-family:"Liberation Serif","Times New Roman",serif;font-size:19px;color:#111;';
  const ttl = 'font-size:20px;font-weight:bold;font-style:italic;color:#111;';
  txt('(a)', 62, 144, serif, 'l');
  txt('Full Profile', 257, 144, ttl, 'c');
  txt('(b)', 452, 144, serif, 'l');
  txt('Beach Profile,', 647, 120, ttl, 'c');
  txt('before transition date', 647, 145, ttl, 'c');
  txt('(c)', 848, 144, serif, 'l');
  txt('Beach Profile,', 1035, 120, ttl, 'c');
  txt('after transition date', 1035, 145, ttl, 'c');

  // tick labels
  const tk = 'font-size:19px;color:#9b9b9b;';
  ticksFullY.forEach((v, i) => txt(String(v), 55, 169 + i * 20.9, 'font-size:17px;color:#9b9b9b;', 'r'));
  ticksBeachY.forEach((v, i) => {
    txt(String(v), 458, 241 - i * 27.8, 'font-size:17px;color:#9b9b9b;', 'l');
    txt(String(v), 845, 241 - i * 27.8, 'font-size:17px;color:#9b9b9b;', 'l');
  });
  ticksFullX.forEach(v => txt(String(v), 61 + v * 388 / 700, 743, tk + 'font-size:21px;', 'c'));
  ticksBeachX.forEach(v => {
    txt(String(v), 447 + v * 2.6, 743, tk + 'font-size:21px;', 'c');
    txt(String(v), 837 + v * 2.6, 743, tk + 'font-size:21px;', 'c');
  });

  txt('Across-shore Distance (m)', 633, 774, 'font-size:23px;font-weight:bold;color:#a3a3a3;', 'c');
  const yl = txt('Elevation (m NAVD)', 22, 440, 'font-size:22px;font-weight:bold;color:#a3a3a3;', 'l');
  yl.style.transform = 'translate(-50%,-50%) rotate(-90deg)';

  // line names
  const ln = 'font-size:15px;font-style:italic;color:#a3a3a3;';
  txt('Line 110, 1349 m upcoast', 72, 237, ln, 'l');
  txt('Line 130, 654 m upcoast', 69, 330, ln, 'l');
  txt('Line 150, 0 m', 83, 422, ln, 'l');
  txt('Line 170, 582 m downcoast', 68, 514, ln, 'l');
  txt('Line 190, 1097 m downcoast', 67, 607, ln, 'l');
  txt('Line 210, 1650 m downcoast', 67, 701, ln, 'l');
  txt('Inset at right', 172, 182, 'font-size:17px;font-style:italic;color:#a6dcef;', 'l');

  // transition dates
  const td = 'font-size:15px;font-style:italic;color:#a39080;';
  txt('transition date =  2013.09', 774, 172, td, 'r');
  txt('2013.09', 775, 265, td, 'r');
  txt('2012.05', 771, 359, td, 'r');
  txt('2014.04', 771, 453, td, 'r');
  txt('2014.04', 772, 546, td, 'r');
  txt('2016. 02', 777, 637, td, 'r');
  txt('Elwha River Mouth', 473, 363, 'font-size:19px;font-style:italic;color:#111;', 'l');

  const up = txt('Upcoast', 795, 276, 'font-size:19px;font-style:italic;color:#111;', 'l');
  up.style.transform = 'translate(-50%,-50%) rotate(-90deg)';
  const dn = txt('Downcoast', 795, 537, 'font-size:19px;font-style:italic;color:#111;', 'l');
  dn.style.transform = 'translate(-50%,-50%) rotate(-90deg)';

  // erosion / accretion key
  [[EROSION, 183, 'erosion'], [ACCRETION, 208, 'accretion']].forEach(function (k) {
    const b = document.createElement('div');
    b.style.cssText = 'position:absolute;left:1061px;top:' + (k[1] - 10) + 'px;width:40px;height:19px;background:' + k[0] + ';border:1.5px solid #a89585;';
    document.body.appendChild(b);
    txt(k[2], 1113, k[1], 'font-size:21px;font-style:italic;color:#a39080;', 'l');
  });
  txt('sedimentation extends off figure', 1212, 358, 'font-size:14.5px;font-style:italic;color:#1e90c8;', 'r');
  txt('sedimentation extends off figure', 1212, 453, 'font-size:14.5px;font-style:italic;color:#1e90c8;', 'r');

  // arrows and inset box
  const svg = '<svg width="1233" height="788" xmlns="http://www.w3.org/2000/svg">' +
    '<rect x="61" y="163" width="84" height="30" fill="none" stroke="#a8e0f0" stroke-width="2"/>' +
    '<path d="M140 169 C 150 177, 158 181, 169 181" fill="none" stroke="#a8e0f0" stroke-width="2"/>' +
    '<line x1="819" y1="323" x2="819" y2="205" stroke="#000" stroke-width="3"/>' +
    '<polygon points="819,187 810,211 828,211" fill="#000"/>' +
    '<line x1="819" y1="462" x2="819" y2="645" stroke="#000" stroke-width="3"/>' +
    '<polygon points="819,663 810,639 828,639" fill="#000"/>' +
    '<line x1="1163" y1="378" x2="1192" y2="378" stroke="#1a8cc8" stroke-width="3"/>' +
    '<polygon points="1212,378 1188,369 1188,387" fill="#1a8cc8"/>' +
    '<line x1="1163" y1="475" x2="1192" y2="475" stroke="#1a8cc8" stroke-width="3"/>' +
    '<polygon points="1212,475 1188,466 1188,484" fill="#1a8cc8"/>' +
    '</svg>';
  const holder = document.createElement('div');
  holder.innerHTML = svg;
  document.body.appendChild(holder.firstChild);
})();
</script>
</body>
</html>
